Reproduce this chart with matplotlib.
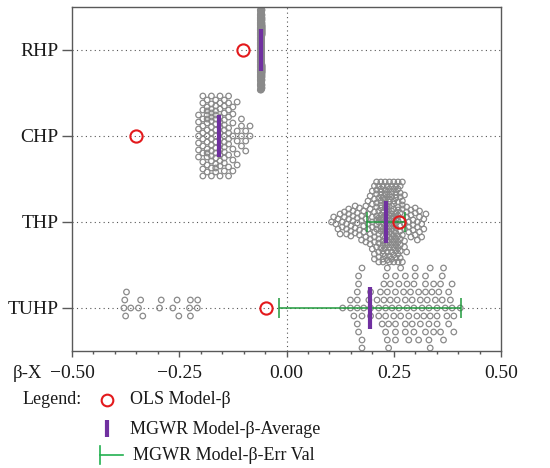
"""
Beeswarm of MGWR local coefficients with OLS beta, MGWR average and error
"""

import numpy as np
import matplotlib
matplotlib.use('agg')

import matplotlib.pyplot as plt
from matplotlib.ticker import MultipleLocator

plt.rcParams['font.family'] = ['Liberation Serif', 'DejaVu Serif']

# ------------- values -----------------------------------------------------
categories = ['TUHP', 'THP', 'CHP', 'RHP']        # bottom to top
ols_beta = [-0.048, 0.262, -0.350, -0.101]
mgwr_avg = [0.195, 0.232, -0.158, -0.059]
mgwr_err = [0.212, 0.044, None, None]

# local coefficients, dense groups given as bin centre + count
rhp_bins = [-0.061, -0.060, -0.059, -0.058, -0.057]
rhp_counts = [30, 50, 60, 50, 30]

chp_bins = [-0.205, -0.195, -0.185, -0.175, -0.165, -0.155, -0.145,
            -0.135, -0.125, -0.115, -0.105, -0.095, -0.085]
chp_counts = [7, 12, 14, 15, 15, 14, 13, 11, 7, 5, 4, 3, 2]

thp_bins = [0.105, 0.110, 0.115, 0.120, 0.125, 0.130, 0.135, 0.140,
            0.145, 0.150, 0.155, 0.160, 0.165, 0.170, 0.175, 0.180,
            0.185, 0.190, 0.195, 0.200, 0.205, 0.210, 0.215, 0.220,
            0.225, 0.230, 0.235, 0.240, 0.245, 0.250, 0.255, 0.260,
            0.265, 0.270, 0.275, 0.280, 0.285, 0.290, 0.295, 0.300,
            0.305, 0.310, 0.315, 0.320, 0.325]
thp_counts = [1, 1, 1, 2, 2, 2, 2, 3, 3, 3, 3, 3, 3, 3, 3, 3,
              4, 4, 5, 6, 8, 10, 11, 12, 13, 14, 14, 14, 14, 14, 13, 12,
              10, 7, 5, 4, 3, 3, 3, 3, 3, 3, 2, 2, 1]

tuhp_values = [
    -0.379, -0.377, -0.375, -0.373, -0.363, -0.345, -0.340, -0.335,
    -0.296, -0.292, -0.265, -0.255, -0.251, -0.226, -0.224, -0.224,
    -0.208, -0.207,
    0.176, 0.232, 0.254, 0.335,
    0.176, 0.235, 0.266, 0.285, 0.324,
    0.176, 0.215, 0.235, 0.254, 0.277, 0.297, 0.324, 0.339, 0.355,
    0.165, 0.231, 0.262, 0.277, 0.293, 0.308, 0.324, 0.351, 0.370,
    0.386, 0.405,
    0.165, 0.215, 0.231, 0.246, 0.262, 0.277, 0.300, 0.316, 0.332,
    0.347, 0.363, 0.378, 0.390,
    0.131, 0.149, 0.165, 0.180, 0.211, 0.227, 0.242, 0.273, 0.289,
    0.304, 0.320, 0.335, 0.351, 0.366, 0.386,
    0.157, 0.176, 0.227, 0.242, 0.258, 0.281, 0.297, 0.312, 0.335,
    0.351, 0.366, 0.382,
    0.149, 0.165, 0.223, 0.238, 0.254, 0.277, 0.293, 0.308, 0.324,
    0.343, 0.359, 0.378,
    0.168, 0.219, 0.235, 0.250, 0.266, 0.281, 0.297, 0.312, 0.328,
    0.343, 0.359, 0.374, 0.390,
    0.168, 0.238, 0.254, 0.285, 0.300, 0.332, 0.363,
    0.168, 0.231, 0.254, 0.332,
    0.192, 0.196, 0.196, 0.196,
]

groups = [
    np.array(tuhp_values),
    np.repeat(thp_bins, thp_counts),
    np.repeat(chp_bins, chp_counts),
    np.repeat(rhp_bins, rhp_counts),
]
# swarm layout per group: (collision diameter px, offset step px)
swarm_style = [(6.6, 8.0), (4.6, 1.0), (6.2, 1.0), (4.6, 1.0)]


def swarm_offsets(vals, sx, diam, step, cap):
    """vertical offsets (px) so that circles of diameter diam do not overlap;
    if there is no free place within +-cap, take the least crowded one"""
    xs = np.asarray(vals, dtype=float) * sx
    cand = [0.0]
    for k in range(1, int(cap // step) + 1):
        cand += [k * step, -k * step]
    cand = np.array(cand)
    px, py = [], []
    out = np.zeros(len(xs))
    for i in np.argsort(xs, kind='stable'):
        x = xs[i]
        y = 0.0
        if px:
            ax_x = np.array(px)
            ax_y = np.array(py)
            near = np.abs(ax_x - x) < diam
            if near.any():
                dx = ax_x[near] - x
                dy = ax_y[near][None, :] - cand[:, None]
                dist = np.sqrt(dx[None, :] ** 2 + dy ** 2).min(axis=1)
                ok = np.nonzero(dist >= diam - 1e-9)[0]
                y = cand[ok[0]] if len(ok) else cand[np.argmax(dist)]
        px.append(x)
        py.append(y)
        out[i] = y
    return out


# ----------- figure setup --------------------------------
W, H = 550, 468
fig = plt.figure(figsize=(W / 100, H / 100), dpi=100)
ax = fig.add_axes([72 / W, 1 - 351 / H, (501 - 72) / W, 344 / H])
ax.set_xlim(-0.5, 0.5)
ax.set_ylim(0.5, 4.5)

bbox = ax.get_window_extent()
sx = bbox.width / 1.0          # px per x unit
sy = bbox.height / 4.0         # px per category

ypos = np.arange(1, len(categories) + 1)

# grid
for y in ypos:
    ax.axhline(y, color='#555555', lw=0.8, ls=(0, (1, 3)), zorder=1)
ax.axvline(0, color='#555555', lw=0.8, ls=(0, (1, 3)), zorder=1)

# ----------- swarms --------------------------------
for vals, y, (diam, step) in zip(groups, ypos, swarm_style):
    off = swarm_offsets(vals, sx, diam, step, 40.0)
    ax.scatter(vals, y + off / sy, s=16, facecolors='none',
               edgecolors='#8a8a8a', linewidths=0.9, zorder=2)

# ----------- error bars, averages, OLS --------------------------------
for m, e, y in zip(mgwr_avg, mgwr_err, ypos):
    if e is not None:
        ax.errorbar(m, y, xerr=e, fmt='none', ecolor='#1f9a3c',
                    elinewidth=1.1, capsize=7, capthick=1.1, zorder=3)
    ax.plot([m, m], [y - 0.245, y + 0.245], color='#7030a0', lw=3,
            solid_capstyle='butt', zorder=4)

ax.plot(ols_beta, ypos, 'o', ms=8.8, mfc='none', mec='#e3191c', mew=1.5,
        zorder=5)

# ----------- axes style --------------------------------
ax.set_yticks(ypos, categories)
ax.set_xticks([-0.5, -0.25, 0, 0.25, 0.5])
ax.xaxis.set_minor_locator(MultipleLocator(0.05))
for s in ax.spines.values():
    s.set_color('#595959')
    s.set_linewidth(1.0)
ax.tick_params(axis='y', length=7, width=1, pad=2.5, labelsize=14,
               color='#595959', labelcolor='#1a1a1a')
ax.tick_params(axis='x', which='major', length=4.5, width=1, pad=5.5,
               labelsize=14, color='#595959', labelcolor='#1a1a1a')
ax.tick_params(axis='x', which='minor', length=2.5, width=1,
               color='#595959')

# ----------- legend (drawn in pixel coordinates) ----------------
lax = fig.add_axes([0, 0, 1, 117 / H])
lax.set_xlim(0, W)
lax.set_ylim(H, 351)
lax.axis('off')

lax.text(13, 373, 'β-X', fontsize=13.5, color='#1a1a1a', va='center')
lax.text(23, 400, 'Legend:', fontsize=13, color='#1a1a1a', va='center')
lax.plot([107], [400], 'o', ms=8.4, mfc='none', mec='#e3191c', mew=1.5)
lax.text(130, 400, 'OLS Model-β', fontsize=13, color='#1a1a1a',
         va='center')
lax.plot([107, 107], [420, 437], color='#7030a0', lw=3,
         solid_capstyle='butt')
lax.text(130, 429, 'MGWR Model-β-Average', fontsize=13, color='#1a1a1a',
         va='center')
lax.plot([100, 123], [455, 455], color='#22b050', lw=1.2)
lax.plot([100, 100], [446, 464], color='#22b050', lw=1.2)
lax.text(133, 455, 'MGWR Model-β-Err Val', fontsize=13, color='#1a1a1a',
         va='center')

plt.savefig('out.png', dpi=100)
